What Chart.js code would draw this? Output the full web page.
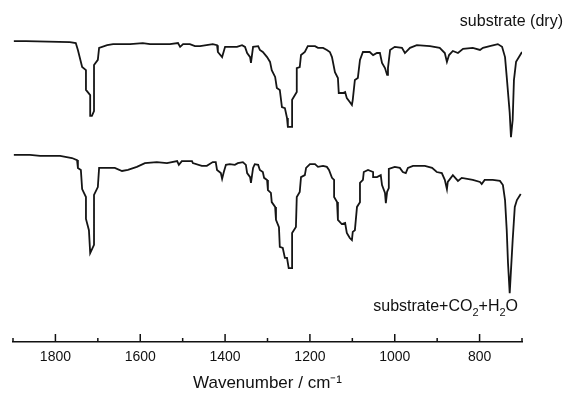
<!DOCTYPE html>
<html>
<head>
<meta charset="utf-8">
<script src="https://cdn.jsdelivr.net/npm/chart.js@4/dist/chart.umd.min.js"></script>
<style>
  body { margin: 0; background: #fff; }
  #wrap { width: 564px; height: 403px; }
</style>
</head>
<body>
<div id="wrap"><canvas id="chart" width="564" height="403"></canvas></div>
<script>
// FTIR spectra, offset traces (arbitrary units)
var dryWavenumber = [1898, 1869, 1766, 1752, 1747, 1737, 1728, 1728, 1718, 1718, 1714, 1709, 1709, 1700, 1697, 1678, 1664, 1624, 1594, 1577,
  1530, 1511, 1506, 1499, 1483, 1471, 1459, 1429, 1419, 1417, 1407, 1400, 1372, 1360, 1353, 1348, 1341, 1339, 1334, 1322,
  1318, 1311, 1301, 1294, 1290, 1282, 1278, 1271, 1266, 1259, 1254, 1252, 1242, 1242, 1231, 1231, 1224, 1221, 1212, 1205,
  1188, 1181, 1169, 1160, 1153, 1148, 1141, 1134, 1132, 1122, 1117, 1113, 1106, 1101, 1099, 1094, 1087, 1082, 1075, 1059,
  1051, 1042, 1035, 1030, 1023, 1018, 1016, 1011, 1000, 983, 976, 964, 948, 917, 894, 882, 877, 872, 863, 851,
  839, 816, 799, 792, 776, 757, 747, 740, 736, 729, 726, 722, 719, 714, 700];
var dryIntensity = [88.0, 88.0, 87.7, 87.4, 85.4, 80.4, 79.5, 73.7, 72.2, 66.1, 66.1, 67.5, 81.0, 82.5, 86.0, 86.8, 87.1, 87.1, 87.4, 87.1,
  87.1, 87.4, 86.3, 87.1, 87.1, 86.5, 86.5, 87.1, 86.8, 84.8, 83.3, 86.3, 86.3, 86.8, 86.3, 84.5, 83.3, 81.6, 86.3, 86.5,
  85.4, 84.8, 83.3, 81.9, 79.5, 77.5, 74.3, 73.7, 68.7, 68.4, 65.5, 62.9, 62.9, 70.8, 73.1, 80.1, 80.4, 83.9, 84.8, 86.5,
  86.5, 86.0, 86.0, 85.4, 84.8, 83.3, 78.9, 77.2, 72.8, 72.8, 73.1, 71.3, 70.2, 69.3, 70.8, 76.6, 77.2, 82.5, 84.8, 84.8,
  83.9, 84.5, 84.5, 81.6, 80.1, 78.1, 80.1, 85.4, 86.3, 86.0, 84.5, 86.0, 86.8, 86.5, 86.0, 84.5, 81.9, 83.9, 85.1, 84.5,
  85.7, 86.0, 85.4, 86.0, 86.5, 87.1, 86.3, 83.3, 77.5, 67.0, 59.9, 64.9, 76.6, 81.9, 84.8];

var wetWavenumber = [1898, 1860, 1836, 1789, 1761, 1749, 1747, 1740, 1737, 1728, 1728, 1721, 1718, 1709, 1709, 1700, 1697, 1678, 1660, 1643,
  1629, 1608, 1589, 1561, 1537, 1513, 1509, 1502, 1478, 1476, 1455, 1443, 1429, 1422, 1419, 1410, 1407, 1403, 1398, 1389,
  1377, 1370, 1358, 1351, 1348, 1341, 1339, 1334, 1330, 1322, 1318, 1311, 1308, 1301, 1299, 1292, 1290, 1282, 1280, 1273,
  1271, 1264, 1259, 1254, 1250, 1242, 1242, 1233, 1231, 1224, 1221, 1212, 1209, 1200, 1188, 1181, 1169, 1160, 1155, 1148,
  1143, 1143, 1136, 1134, 1125, 1117, 1113, 1106, 1101, 1099, 1094, 1089, 1082, 1082, 1075, 1073, 1063, 1051, 1051, 1042,
  1033, 1030, 1023, 1021, 1018, 1014, 1014, 1000, 988, 981, 974, 969, 957, 929, 912, 901, 889, 882, 877, 875,
  863, 851, 842, 816, 799, 795, 788, 769, 752, 745, 740, 736, 733, 729, 722, 717, 712, 703];
var wetIntensity = [54.7, 54.7, 54.4, 54.4, 53.8, 53.2, 50.9, 50.3, 44.7, 42.4, 36.0, 32.7, 26.0, 28.4, 43.0, 45.3, 50.9, 50.9, 50.9, 50.0,
  50.3, 51.2, 52.3, 52.6, 52.3, 52.9, 51.8, 52.9, 52.9, 52.3, 51.5, 51.5, 52.6, 52.6, 50.3, 49.4, 47.7, 49.7, 51.8, 52.0,
  51.8, 52.3, 52.6, 51.8, 49.4, 48.2, 46.5, 50.9, 52.0, 51.8, 50.3, 49.7, 48.0, 47.4, 44.4, 43.6, 40.9, 39.5, 35.7, 33.6,
  27.8, 27.5, 24.6, 24.6, 21.6, 21.6, 31.9, 33.6, 42.4, 43.9, 48.2, 48.8, 50.9, 52.0, 52.0, 51.2, 51.5, 51.2, 50.3, 48.0,
  47.4, 42.4, 40.9, 35.7, 34.5, 34.8, 31.9, 30.4, 29.8, 32.2, 32.7, 39.5, 40.9, 46.5, 47.4, 49.7, 50.3, 49.7, 48.2, 48.2,
  48.8, 45.9, 43.6, 40.6, 43.9, 45.0, 50.6, 51.2, 50.9, 49.7, 49.4, 50.9, 51.5, 51.5, 50.9, 49.7, 49.4, 47.4, 44.7, 46.8,
  48.8, 47.1, 48.0, 47.4, 46.8, 46.2, 47.4, 47.4, 47.1, 45.9, 41.5, 32.7, 23.1, 14.3, 29.8, 39.5, 41.5, 43.3];

var majorTicks = [1800, 1600, 1400, 1200, 1000, 800];
var traceLabels = ['substrate (dry)', 'substrate+CO2+H2O'];

function toPoints(xs, ys) {
  var pts = [];
  for (var i = 0; i < xs.length; i++) {
    pts.push({ x: xs[i], y: ys[i] });
  }
  return pts;
}

var FONT = '"Liberation Sans", Arial, Helvetica, sans-serif';

// ticks point up into the plot, major every 200, minor every 100
var innerTicks = {
  id: 'innerTicks',
  afterDraw: function(chart) {
    var ctx = chart.ctx;
    var xs = chart.scales.x;
    var bottom = chart.chartArea.bottom;
    ctx.save();
    ctx.strokeStyle = '#111';
    ctx.lineWidth = 1.5;
    xs.ticks.forEach(function(t) {
      var px = xs.getPixelForValue(t.value);
      var len = majorTicks.indexOf(t.value) >= 0 ? 8 : 4;
      ctx.beginPath();
      ctx.moveTo(px, bottom);
      ctx.lineTo(px, bottom - len);
      ctx.stroke();
    });
    ctx.restore();
  }
};

// trace labels, with subscripts on the second one
var traceText = {
  id: 'traceText',
  afterDraw: function(chart) {
    var ctx = chart.ctx;
    ctx.save();
    ctx.fillStyle = '#111';
    ctx.textBaseline = 'middle';
    ctx.font = '16px ' + FONT;
    ctx.textAlign = 'right';
    ctx.fillText(traceLabels[0], chart.width - 1, 22);

    var parts = [['substrate+CO', false], ['2', true], ['+H', false], ['2', true], ['O', false]];
    var total = 0;
    parts.forEach(function(p) {
      ctx.font = (p[1] ? '11px ' : '16px ') + FONT;
      total += ctx.measureText(p[0]).width;
    });
    var x = chart.chartArea.right - 4 - total;
    ctx.textAlign = 'left';
    parts.forEach(function(p) {
      ctx.font = (p[1] ? '11px ' : '16px ') + FONT;
      ctx.fillText(p[0], x, p[1] ? 313 : 307);
      x += ctx.measureText(p[0]).width;
    });
    ctx.restore();
  }
};

var ctx = document.getElementById('chart').getContext('2d');
var chart = new Chart(ctx, {
  type: 'line',
  data: {
    datasets: [
      {
        label: traceLabels[0],
        data: toPoints(dryWavenumber, dryIntensity),
        borderColor: '#151515',
        borderWidth: 1.8,
        pointRadius: 0,
        tension: 0,
        fill: false
      },
      {
        label: traceLabels[1],
        data: toPoints(wetWavenumber, wetIntensity),
        borderColor: '#151515',
        borderWidth: 1.8,
        pointRadius: 0,
        tension: 0,
        fill: false
      }
    ]
  },
  options: {
    responsive: false,
    devicePixelRatio: 1,
    animation: false,
    layout: { padding: { left: 13, right: 42, top: 0, bottom: 0 } },
    plugins: {
      legend: { display: false },
      tooltip: { enabled: false }
    },
    scales: {
      x: {
        type: 'linear',
        reverse: true,
        min: 700,
        max: 1900,
        grid: { display: false, drawTicks: false },
        border: { display: true, color: '#111', width: 1.5 },
        ticks: {
          stepSize: 100,
          autoSkip: false,
          maxRotation: 0,
          padding: 7,
          color: '#111',
          font: { family: FONT, size: 14 },
          callback: function(v) { return majorTicks.indexOf(v) >= 0 ? String(v) : ''; }
        },
        title: {
          display: true,
          text: 'Wavenumber / cm⁻¹',
          color: '#111',
          font: { family: FONT, size: 17 },
          padding: { top: 0, bottom: 9.8 }
        }
      },
      y: {
        display: false,
        min: 0,
        max: 100
      }
    }
  },
  plugins: [innerTicks, traceText]
});
</script>
</body>
</html>
